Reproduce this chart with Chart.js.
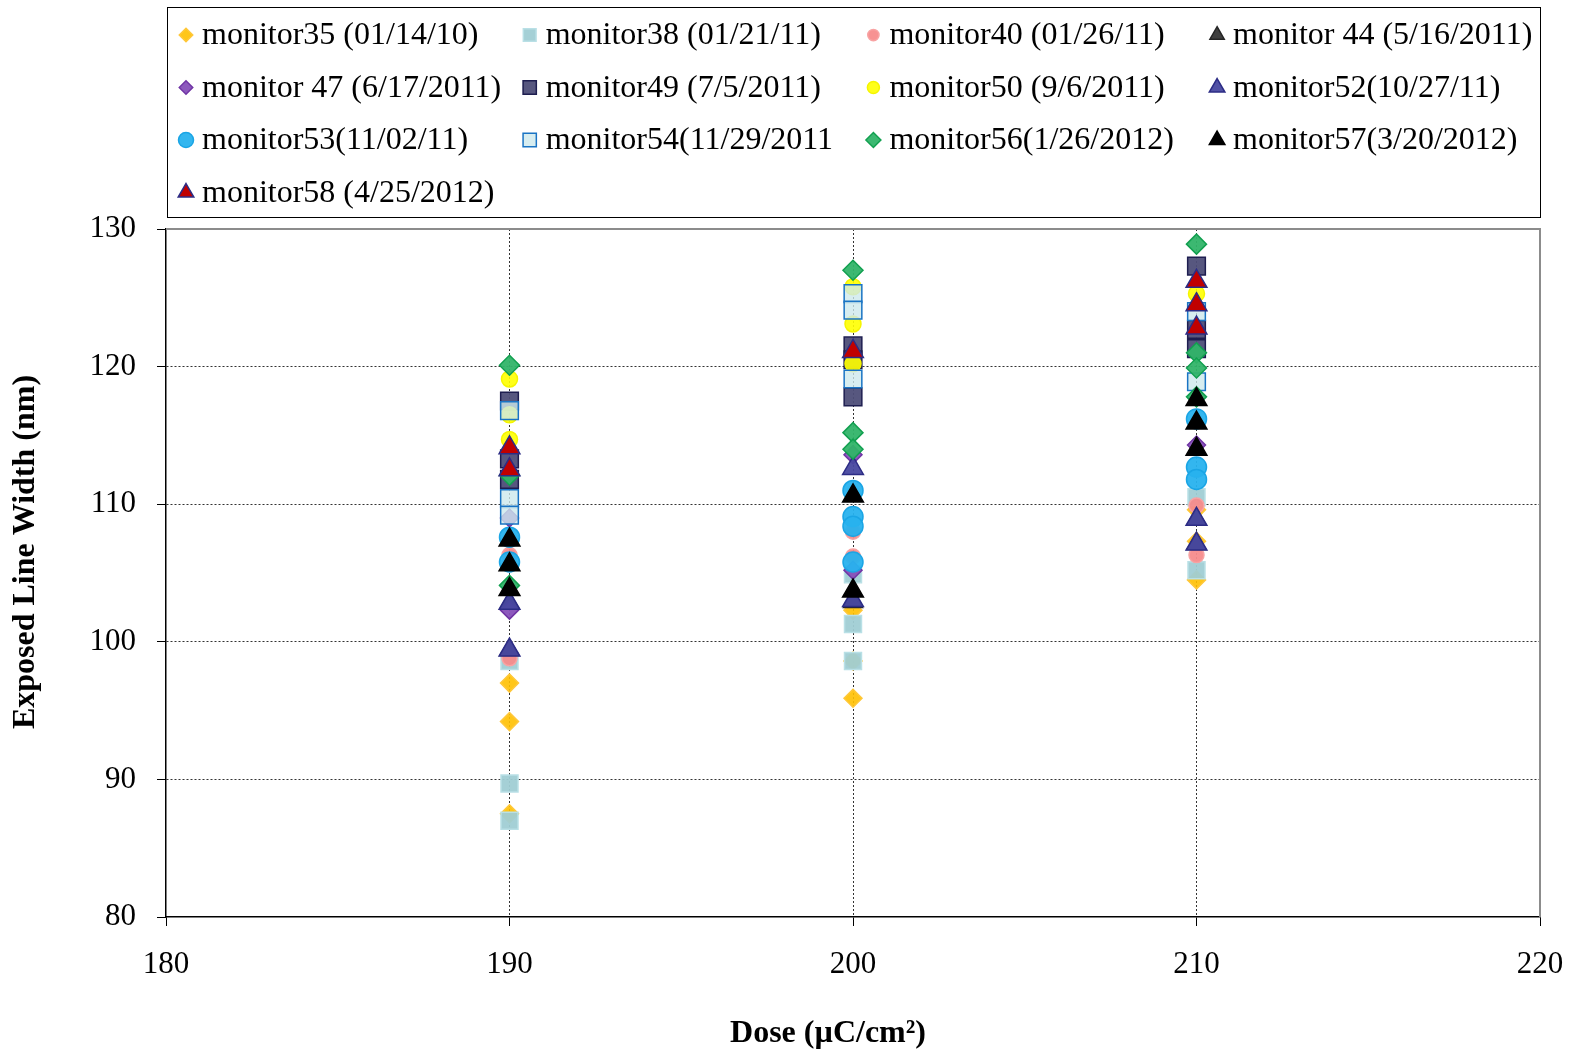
<!DOCTYPE html>
<html>
<head>
<meta charset="utf-8">
<script src="https://cdn.jsdelivr.net/npm/chart.js@4.4.1/dist/chart.umd.min.js"></script>
<style>
  html, body { margin: 0; padding: 0; background: #fff; }
</style>
</head>
<body>
<canvas id="myChart" width="1573" height="1051"></canvas>
<script>
// doses on the x axis, every series gives its widths per dose (same order)
const doses = [190, 200, 210];

const seriesNames = [
  "monitor35 (01/14/10)", "monitor38 (01/21/11)", "monitor40 (01/26/11)", "monitor 44 (5/16/2011)",
  "monitor 47 (6/17/2011)", "monitor49 (7/5/2011)", "monitor50 (9/6/2011)", "monitor52(10/27/11)",
  "monitor53(11/02/11)", "monitor54(11/29/2011", "monitor56(1/26/2012)", "monitor57(3/20/2012)",
  "monitor58 (4/25/2012)"
];

const monitor35 = [[97.0, 94.2, 87.5], [102.3, 98.6, 95.9], [109.6, 107.3, 104.5]];
const monitor38 = [[98.6, 89.7, 87.0], [104.9, 101.3, 98.6], [110.5, 105.2]];
const monitor40 = [[106.3, 98.8], [108.0, 106.2], [109.9, 106.3]];
const monitor44 = [[102.8, 99.4], [102.9], [108.9, 107.1]];
const monitor47 = [[102.3, 109.0], [113.6, 105.2], [114.3]];
const monitor49 = [[117.5, 113.3, 111.8], [121.5, 120.5, 117.8], [127.3, 122.7, 121.3]];
const monitor50 = [[119.1, 116.5, 114.7], [125.8, 123.1, 120.2], [125.3]];
const monitor52 = [[102.8, 99.4], [112.6, 103.0], [108.9, 107.1]];
const monitor53 = [[107.6, 105.8], [111.0, 109.1, 108.4, 105.8], [116.2, 112.7, 111.8]];
const monitor54 = [[116.8, 110.4, 109.2], [125.3, 124.1, 119.1], [124.0, 118.9]];
const monitor56 = [[120.1, 112.1, 104.1], [127.0, 115.2, 114.0], [128.9, 121.0, 119.9, 117.8]];
const monitor57 = [[107.4, 105.6, 103.8], [110.6, 103.7], [117.6, 115.9, 114.0]];
const monitor58 = [[114.1, 112.5], [121.1], [126.2, 124.5, 122.8]];

const seriesValues = [monitor35, monitor38, monitor40, monitor44, monitor47, monitor49, monitor50,
  monitor52, monitor53, monitor54, monitor56, monitor57, monitor58];

const yTicks = [80, 90, 100, 110, 120, 130];
const xTicks = [180, 190, 200, 210, 220];

// marker look per series: style, radius, fill, border
const markers = [
  ["rectRot", 9, "rgba(255,192,0,0.9)", "#FFC83A"],
  ["rect", 12, "rgba(160,205,212,0.95)", "#B9E0E6"],
  ["circle", 7.5, "rgba(247,140,140,0.95)", "#F8A3A3"],
  ["triangle", 11, "#404040", "#262626"],
  ["rectRot", 9, "rgba(135,80,185,0.95)", "#7035A5"],
  ["rect", 12.5, "rgba(78,78,120,0.95)", "#1E1E50"],
  ["circle", 8, "rgba(255,255,0,0.9)", "#F5F500"],
  ["triangle", 12, "rgba(72,72,160,0.95)", "#2C2C85"],
  ["circle", 10, "rgba(40,178,238,0.95)", "#1AA5E5"],
  ["rect", 12.5, "rgba(205,232,236,0.8)", "#1A74C4"],
  ["rectRot", 10, "rgba(50,180,105,0.95)", "#12A050"],
  ["triangle", 12, "#000000", "#000000"],
  ["triangle", 12, "#C00000", "#2C2C85"]
];

const serif = '"Liberation Serif", "Times New Roman", serif';

const datasets = seriesNames.map((name, i) => {
  const [style, r, fill, border] = markers[i];
  return {
    label: name,
    data: doses.flatMap((d, k) => seriesValues[i][k].map(v => ({ x: d, y: v }))),
    pointStyle: style,
    pointRadius: r,
    pointHoverRadius: r,
    pointBackgroundColor: fill,
    pointBorderColor: border,
    pointBorderWidth: 1.5,
    order: seriesNames.length - i   // later series sit on top
  };
});

// legend box drawn in the top band, 4 columns
const legendBox = {
  id: "legendBox",
  afterDraw(chart) {
    const ctx = chart.ctx;
    ctx.save();
    ctx.strokeStyle = "#000";
    ctx.lineWidth = 1;
    ctx.strokeRect(167.5, 7.5, 1373, 210);
    ctx.font = "32px " + serif;
    ctx.textBaseline = "middle";
    chart.data.datasets.forEach((ds, i) => {
      const col = i % 4, row = Math.floor(i / 4);
      const x = 186 + col * 343.7;
      const y = 35 + row * 52.5;
      ctx.fillStyle = ds.pointBackgroundColor;
      ctx.strokeStyle = ds.pointBorderColor;
      ctx.lineWidth = 1.5;
      Chart.helpers.drawPoint(ctx, { pointStyle: ds.pointStyle, radius: ds.pointRadius * 0.75, borderWidth: 1.5, rotation: 0 }, x, y);
      ctx.fillStyle = "#000";
      ctx.fillText(ds.label, x + 16, y + 1);
    });
    ctx.restore();
  }
};

// grey top/right edge of the plot area + axis titles
const plotFrame = {
  id: "plotFrame",
  beforeDatasetsDraw(chart) {
    const { ctx, chartArea: a } = chart;
    ctx.save();
    ctx.strokeStyle = "#8c8c8c";
    ctx.lineWidth = 2;
    ctx.beginPath();
    ctx.moveTo(a.left, a.top);
    ctx.lineTo(a.right, a.top);
    ctx.lineTo(a.right, a.bottom);
    ctx.stroke();
    ctx.restore();
  },
  afterDraw(chart) {
    const ctx = chart.ctx;
    ctx.save();
    ctx.fillStyle = "#000";
    ctx.font = "bold 32px " + serif;
    ctx.textAlign = "center";
    ctx.textBaseline = "middle";
    ctx.fillText("Dose (µC/cm²)", 828, 1034);
    ctx.translate(26, 552);
    ctx.rotate(-Math.PI / 2);
    ctx.fillText("Exposed Line Width (nm)", 0, 0);
    ctx.restore();
  }
};

const gridColor = (c, edges) => (c.tick && edges.includes(c.tick.value)) ? "rgba(0,0,0,0)" : "#333";

const ctx = document.getElementById("myChart").getContext("2d");
const chart = new Chart(ctx, {
  type: "scatter",
  data: { datasets },
  plugins: [legendBox, plotFrame],
  options: {
    responsive: false,
    animation: false,
    layout: { padding: { top: 229, right: 33, left: 0, bottom: 0 } },
    plugins: { legend: { display: false }, tooltip: { enabled: false } },
    scales: {
      x: {
        type: "linear",
        min: xTicks[0],
        max: xTicks[xTicks.length - 1],
        afterBuildTicks: s => { s.ticks = xTicks.map(v => ({ value: v })); },
        afterFit: s => { s.height = 134; s.paddingLeft = 0; s.paddingRight = 0; },
        ticks: { color: "#000", padding: 20, font: { family: serif, size: 31 } },
        grid: { color: c => gridColor(c, [180, 220]), tickColor: "#000", tickLength: 9, lineWidth: 1 },
        border: { color: "#000", width: 1.5, dash: [2, 2] }
      },
      y: {
        min: yTicks[0],
        max: yTicks[yTicks.length - 1],
        afterBuildTicks: s => { s.ticks = yTicks.map(v => ({ value: v })); },
        afterFit: s => { s.width = 166; s.paddingTop = 0; s.paddingBottom = 0; },
        ticks: { color: "#000", padding: 21, font: { family: serif, size: 31 } },
        grid: { color: c => gridColor(c, [80, 130]), tickColor: "#000", tickLength: 9, lineWidth: 1 },
        border: { color: "#000", width: 1.5, dash: [2, 2] }
      }
    }
  }
});
</script>
</body>
</html>
